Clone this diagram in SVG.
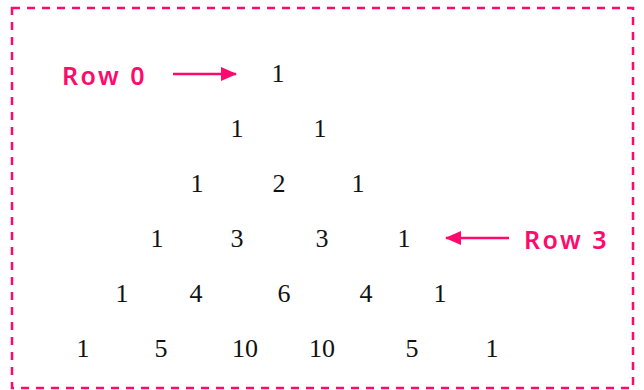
<svg xmlns="http://www.w3.org/2000/svg" width="644" height="390" viewBox="0 0 644 390">
<style>
.num{font-family:"Liberation Serif","Times New Roman",serif;font-size:26px;fill:#111;text-anchor:middle}
.lbl{font-family:"Noto Sans","DejaVu Sans",sans-serif;font-size:25px;font-weight:600;fill:#ff0a6c;letter-spacing:2.5px}
.arr{stroke:#ff0a6c;stroke-width:2.5;fill:none}
</style>
<defs>
<marker id="ah" markerWidth="16" markerHeight="14" refX="15" refY="7" orient="auto" markerUnits="userSpaceOnUse" viewBox="0 0 16 14">
<path d="M0,0 L16,7 L0,14 z" fill="#ff0a6c"/>
</marker>
</defs>
<rect x="12" y="8" width="621" height="380" fill="none" stroke="#ff0a6c" stroke-width="2.5" stroke-dasharray="8,7"/>
<g id="labels">
<text class="lbl" x="62" y="85">Row 0</text>
<text class="lbl" x="524" y="249">Row 3</text>
</g>
<g id="connectors">
<line class="arr" x1="173" y1="74" x2="236" y2="74" marker-end="url(#ah)"/>
<line class="arr" x1="509" y1="238" x2="446" y2="238" marker-end="url(#ah)"/>
</g>
<g id="row0"><text class="num" x="278" y="82">1</text></g>
<g id="row1"><text class="num" x="237" y="137">1</text><text class="num" x="320" y="137">1</text></g>
<g id="row2"><text class="num" x="197" y="192">1</text><text class="num" x="279" y="192">2</text><text class="num" x="358" y="192">1</text></g>
<g id="row3"><text class="num" x="157" y="247">1</text><text class="num" x="237" y="247">3</text><text class="num" x="322" y="247">3</text><text class="num" x="404" y="247">1</text></g>
<g id="row4"><text class="num" x="122" y="302">1</text><text class="num" x="196" y="302">4</text><text class="num" x="284" y="302">6</text><text class="num" x="366" y="302">4</text><text class="num" x="440" y="302">1</text></g>
<g id="row5"><text class="num" x="83" y="357">1</text><text class="num" x="161" y="357">5</text><text class="num" x="245" y="357">10</text><text class="num" x="322" y="357">10</text><text class="num" x="412" y="357">5</text><text class="num" x="492" y="357">1</text></g>
</svg>
